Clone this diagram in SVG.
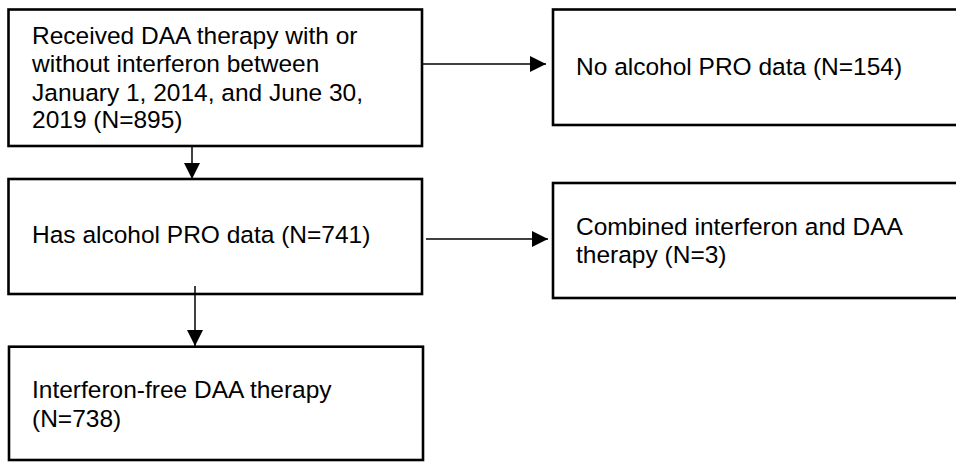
<svg xmlns="http://www.w3.org/2000/svg" width="956" height="462" viewBox="0 0 956 462">
<style>
.box{fill:#fff;stroke:#000;stroke-width:2.6}
.t{font-family:"Liberation Sans",Arial,sans-serif;font-size:24.5px;fill:#000}
.c{stroke:#000;stroke-width:1.5;fill:none}
</style>
<defs>
<marker id="ah" markerUnits="userSpaceOnUse" markerWidth="16" markerHeight="16" refX="16" refY="8" orient="auto">
<path d="M0,0 L16,8 L0,16 Z" fill="#000"/>
</marker>
</defs>
<rect width="956" height="462" fill="#fff"/>
<g id="n1">
<rect class="box" x="8.5" y="9.5" width="413.5" height="136.5"/>
<text class="t" x="32" y="44.3">Received DAA therapy with or</text>
<text class="t" x="32" y="72.3">without interferon between</text>
<text class="t" x="32" y="100.6">January 1, 2014, and June 30,</text>
<text class="t" x="32" y="128.4">2019 (N=895)</text>
</g>
<g id="n2">
<rect class="box" x="553" y="9.5" width="410" height="115.5"/>
<text class="t" x="576" y="75">No alcohol PRO data (N=154)</text>
</g>
<g id="n3">
<rect class="box" x="8.5" y="179" width="413.5" height="115"/>
<text class="t" x="32" y="243">Has alcohol PRO data (N=741)</text>
</g>
<g id="n4">
<rect class="box" x="553" y="183" width="410" height="115"/>
<text class="t" x="576" y="235">Combined interferon and DAA</text>
<text class="t" x="576" y="263">therapy (N=3)</text>
</g>
<g id="n5">
<rect class="box" x="9" y="346.7" width="414" height="113.3"/>
<text class="t" x="32" y="398">Interferon-free DAA therapy</text>
<text class="t" x="32" y="427">(N=738)</text>
</g>
<g id="connectors">
<line class="c" x1="423" y1="64" x2="546" y2="64" marker-end="url(#ah)"/>
<line class="c" x1="426" y1="239" x2="548" y2="239" marker-end="url(#ah)"/>
<line class="c" x1="192" y1="146" x2="192" y2="179" marker-end="url(#ah)"/>
<line class="c" x1="195" y1="286" x2="195" y2="346" marker-end="url(#ah)"/>
</g>
</svg>
